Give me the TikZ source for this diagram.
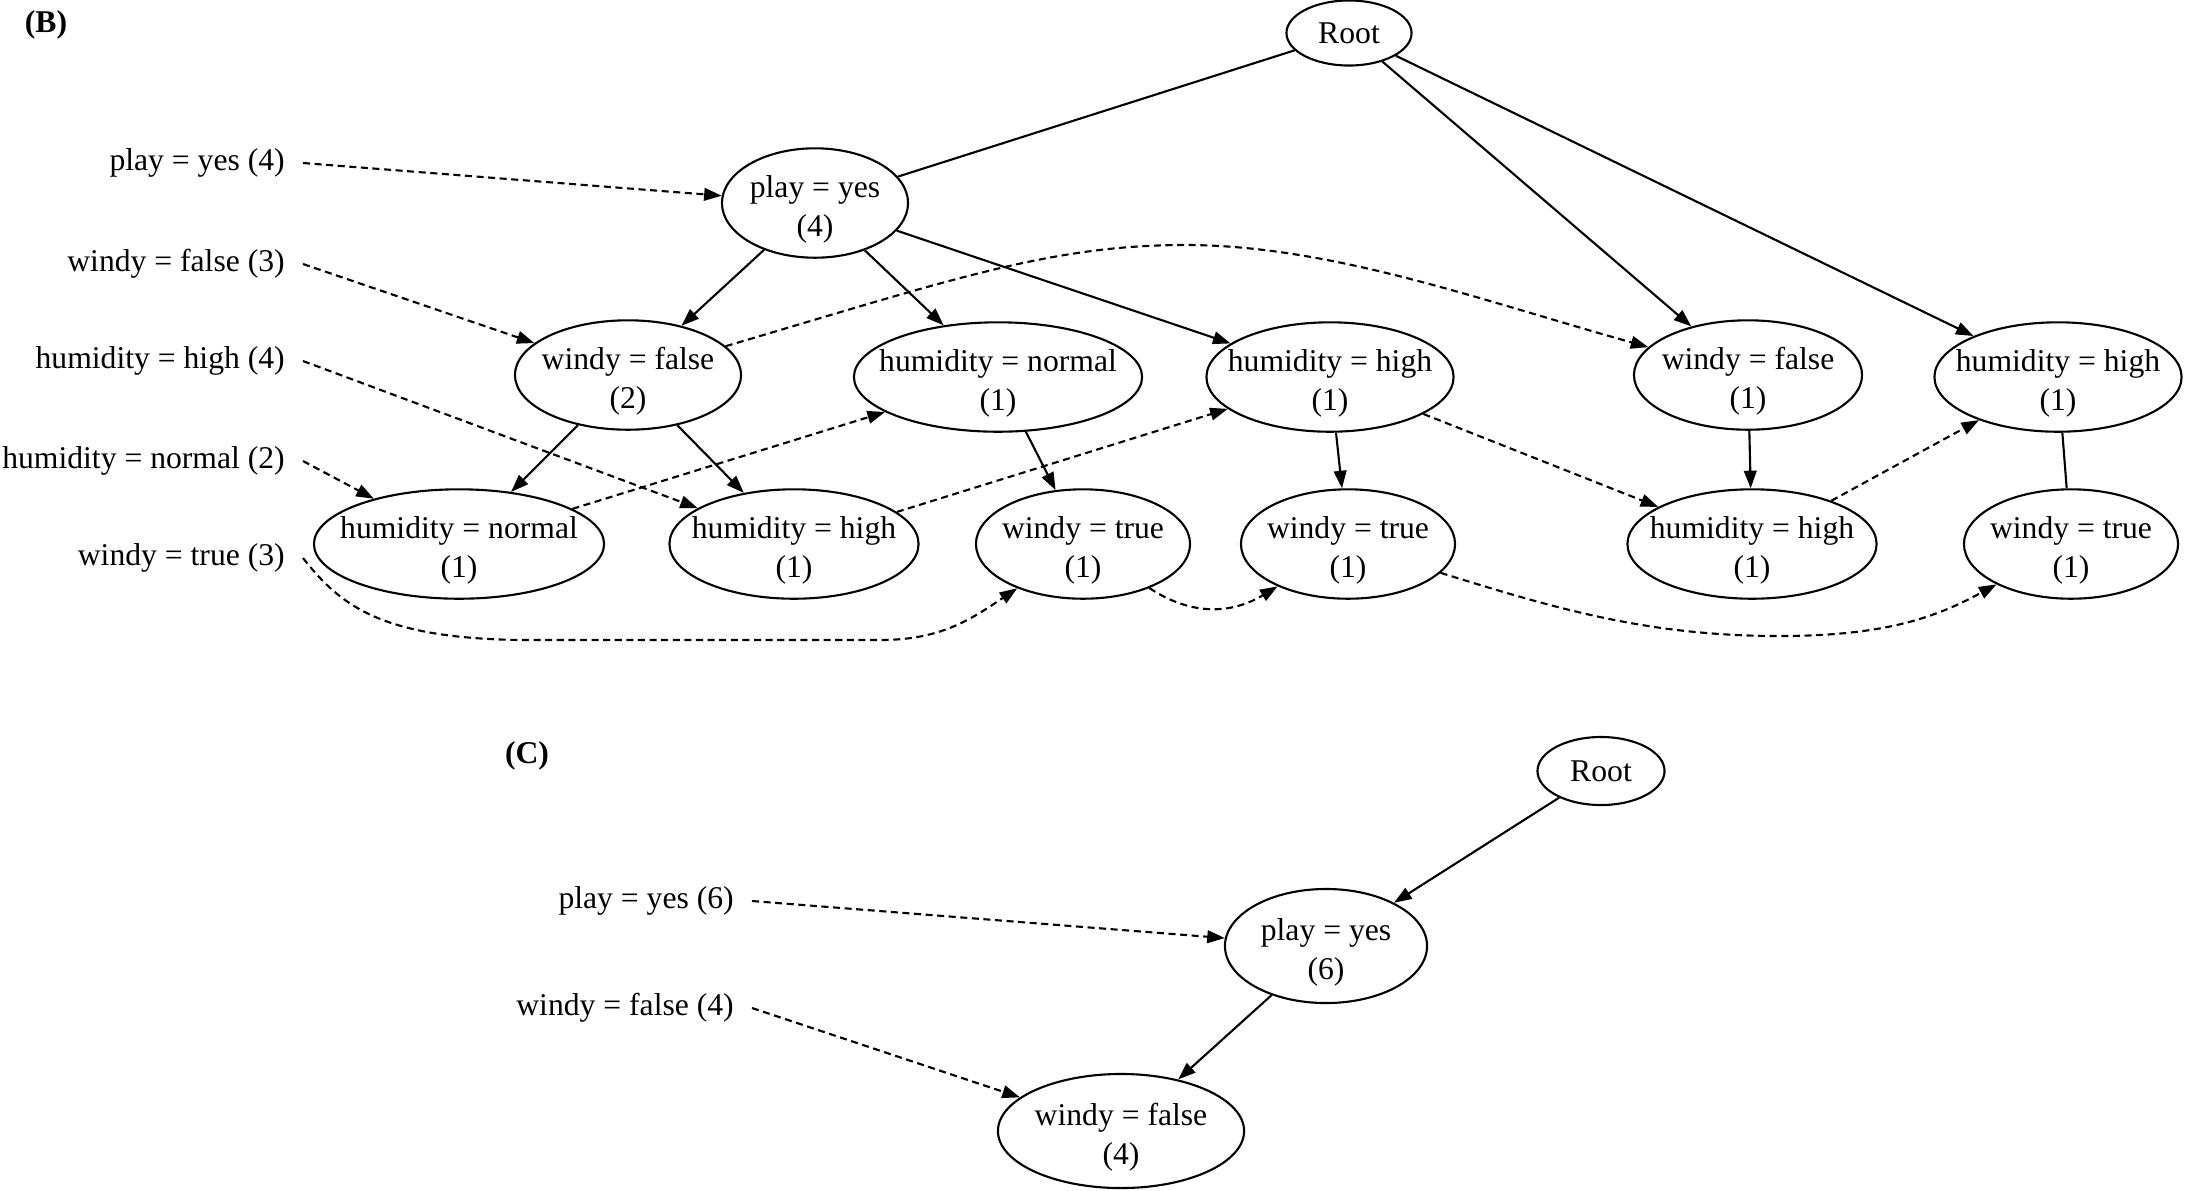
\documentclass[tikz,border=0pt]{standalone}
\usepackage{fontspec}
\setmainfont{Liberation Serif}
\usetikzlibrary{shapes.geometric,arrows.meta}
\newcommand{\two}[2]{\makebox[0pt]{\raisebox{-1.8pt}[\height][\depth]{\begin{tabular}{@{}c@{}}#1\\#2\end{tabular}}}}

\begin{document}
\begin{tikzpicture}[x=0.01cm,y=-0.01cm,
  font=\fontsize{9}{11}\selectfont,
  elt/.style={ellipse,draw,line width=0.6pt,inner sep=0pt,
              minimum height=1.06cm,minimum width=#1},
  lab/.style={anchor=east,inner xsep=5pt},
  tree/.style={-{Triangle[length=5pt,width=3.6pt]},line width=0.6pt},
  bare/.style={line width=0.6pt},
  link/.style={-{Triangle[length=5pt,width=3.6pt]},line width=0.6pt,
               dash pattern=on 2pt off 1.3pt}
]
\useasboundingbox (0,0) rectangle (2185,1190);

% (B)
\node[font=\fontsize{9}{11}\selectfont\bfseries] (tagB) at (46,25) {(B)};
\node[elt=1.25cm,minimum height=0.65cm] (rootB) at (1349,33) {\makebox[0pt]{Root}};
\node[elt=1.86cm] (pyB)  at (815,203)  {\two{play = yes}{(4)}};
\node[elt=2.26cm] (wfB)  at (628,375)  {\two{windy = false}{(2)}};
\node[elt=2.88cm] (hnU)  at (998,377)  {\two{humidity = normal}{(1)}};
\node[elt=2.47cm] (hhM)  at (1330,377) {\two{humidity = high}{(1)}};
\node[elt=2.28cm] (wfR)  at (1748,375) {\two{windy = false}{(1)}};
\node[elt=2.47cm] (hhR)  at (2058,377) {\two{humidity = high}{(1)}};
\node[elt=2.90cm] (hnL)  at (459,544)  {\two{humidity = normal}{(1)}};
\node[elt=2.49cm] (hhL)  at (794,544)  {\two{humidity = high}{(1)}};
\node[elt=2.14cm] (wt1)  at (1083,544) {\two{windy = true}{(1)}};
\node[elt=2.14cm] (wt2)  at (1348,544) {\two{windy = true}{(1)}};
\node[elt=2.49cm] (hhR2) at (1752,544) {\two{humidity = high}{(1)}};
\node[elt=2.14cm] (wt3)  at (2071,544) {\two{windy = true}{(1)}};

\node[lab] (lyes) at (303,163) {play = yes (4)};
\node[lab] (lwf)  at (303,264) {windy = false (3)};
\node[lab] (lhh)  at (303,361) {humidity = high (4)};
\node[lab] (lhn)  at (303,461) {humidity = normal (2)};
\node[lab] (lwt)  at (303,558) {windy = true (3)};

\draw[bare] (rootB) -- (pyB);
\draw[tree] (rootB) -- (wfR);
\draw[tree] (rootB) -- (hhR);
\draw[tree] (pyB) -- (wfB);
\draw[tree] (pyB) -- (hnU);
\draw[tree] (pyB) -- (hhM);
\draw[tree] (wfB) -- (hnL);
\draw[tree] (wfB) -- (hhL);
\draw[tree] (hnU) -- (wt1);
\draw[tree] (hhM) -- (wt2);
\draw[tree] (wfR) -- (hhR2);
\draw[bare] (hhR) -- (wt3);

\draw[link] (lyes.east) -- (pyB);
\draw[link] (lwf.east) -- (wfB);
\draw[link] (lhh.east) -- (hhL);
\draw[link] (lhn.east) -- (hnL);
\draw[link] (lwt.east) .. controls (340,605) and (380,638) .. (520,640)
  -- (880,640) .. controls (940,640) and (970,620) .. (wt1);
\draw[link] (wfB) .. controls (950,280) and (1050,245) .. (1185,245)
  .. controls (1330,245) and (1480,300) .. (wfR);
\draw[link] (hnL) -- (hnU);
\draw[link] (hhL) -- (hhM);
\draw[link] (hhM) -- (hhR2);
\draw[link] (hhR2) -- (hhR);
\draw[link] (wt1) .. controls (1190,615) and (1230,615) .. (wt2);
\draw[link] (wt2) .. controls (1560,610) and (1650,636) .. (1780,636)
  .. controls (1890,636) and (1940,615) .. (wt3);

% (C)
\node[font=\fontsize{9}{11}\selectfont\bfseries] (tagC) at (527,756) {(C)};
\node[elt=1.27cm,minimum height=0.68cm] (rootC) at (1601,771) {\makebox[0pt]{Root}};
\node[elt=2.02cm,minimum height=1.14cm] (pyC) at (1326,946) {\two{play = yes}{(6)}};
\node[elt=2.46cm,minimum height=1.14cm] (wfC) at (1121,1131) {\two{windy = false}{(4)}};

\node[lab] (lyesC) at (752,901)  {play = yes (6)};
\node[lab] (lwfC)  at (752,1008) {windy = false (4)};

\draw[tree] (rootC) -- (pyC);
\draw[tree] (pyC) -- (wfC);
\draw[link] (lyesC.east) -- (pyC);
\draw[link] (lwfC.east) -- (wfC);
\end{tikzpicture}
\end{document}
